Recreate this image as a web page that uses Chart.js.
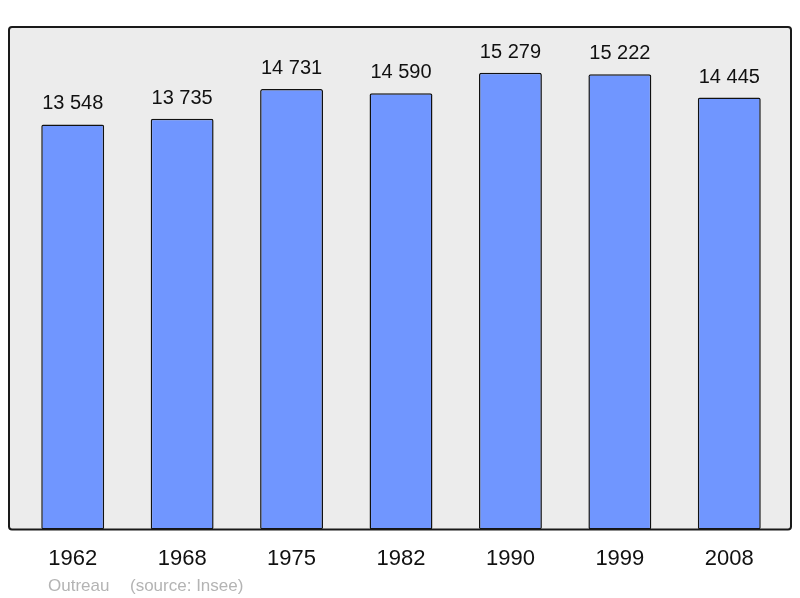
<!DOCTYPE html>
<html>
<head>
<meta charset="utf-8">
<script src="https://cdn.jsdelivr.net/npm/chart.js@4/dist/chart.umd.min.js"></script>
<style>
html,body{margin:0;padding:0;background:#fff;}
#wrap{width:800px;height:598px;}
</style>
</head>
<body>
<div id="wrap"><canvas id="c" width="800" height="598"></canvas></div>
<script>
const years = ["1962", "1968", "1975", "1982", "1990", "1999", "2008"];
const population = [13548, 13735, 14731, 14590, 15279, 15222, 14445];
const valueLabels = ["13 548", "13 735", "14 731", "14 590", "15 279", "15 222", "14 445"];
const sourceName = "Outreau";
const sourceNote = "(source: Insee)";

const framePlugin = {
  id: 'frame',
  beforeDraw(chart) {
    const {ctx, chartArea: a} = chart;
    const x0 = a.left - 9, x1 = a.right + 7, y0 = a.top, y1 = a.bottom;
    ctx.save();
    ctx.beginPath();
    ctx.roundRect(x0, y0, x1 - x0, y1 - y0, 3);
    ctx.fillStyle = '#ececec';
    ctx.fill();
    ctx.restore();
  },
  afterDatasetsDraw(chart) {
    const {ctx, chartArea: a} = chart;
    const x0 = a.left - 9, x1 = a.right + 7, y0 = a.top, y1 = a.bottom;
    ctx.save();
    ctx.beginPath();
    ctx.roundRect(x0, y0, x1 - x0, y1 - y0, 3);
    ctx.lineWidth = 2;
    ctx.strokeStyle = '#1a1a1a';
    ctx.stroke();
    // value labels
    ctx.font = '20px "Liberation Sans", Arial, sans-serif';
    ctx.fillStyle = '#111';
    ctx.textAlign = 'center';
    ctx.textBaseline = 'alphabetic';
    chart.getDatasetMeta(0).data.forEach((bar, i) => {
      ctx.fillText(valueLabels[i], bar.x, bar.y - 15);
    });
    // source line
    ctx.font = '17px "Liberation Sans", Arial, sans-serif';
    ctx.fillStyle = '#b4b4b4';
    ctx.textAlign = 'left';
    ctx.fillText(sourceName, 48, 591);
    ctx.fillText(sourceNote, 130, 591);
    ctx.restore();
  }
};

new Chart(document.getElementById('c'), {
  type: 'bar',
  data: {
    labels: years,
    datasets: [{
      data: population,
      backgroundColor: '#7096ff',
      borderColor: '#111',
      borderWidth: 1.5,
      borderRadius: 2,
      borderSkipped: false,
      categoryPercentage: 1,
      barPercentage: 0.575
    }]
  },
  options: {
    responsive: false,
    animation: false,
    devicePixelRatio: 1,
    layout: {padding: {left: 18, right: 16, top: 27, bottom: 10}},
    plugins: {legend: {display: false}, tooltip: {enabled: false}},
    scales: {
      x: {
        offset: true,
        grid: {display: false, drawTicks: false},
        border: {display: false},
        ticks: {
          color: '#111',
          padding: 16,
          font: {family: '"Liberation Sans", Arial, sans-serif', size: 22}
        }
      },
      y: {
        display: false,
        min: 0,
        max: 16806
      }
    }
  },
  plugins: [framePlugin]
});
</script>
</body>
</html>
